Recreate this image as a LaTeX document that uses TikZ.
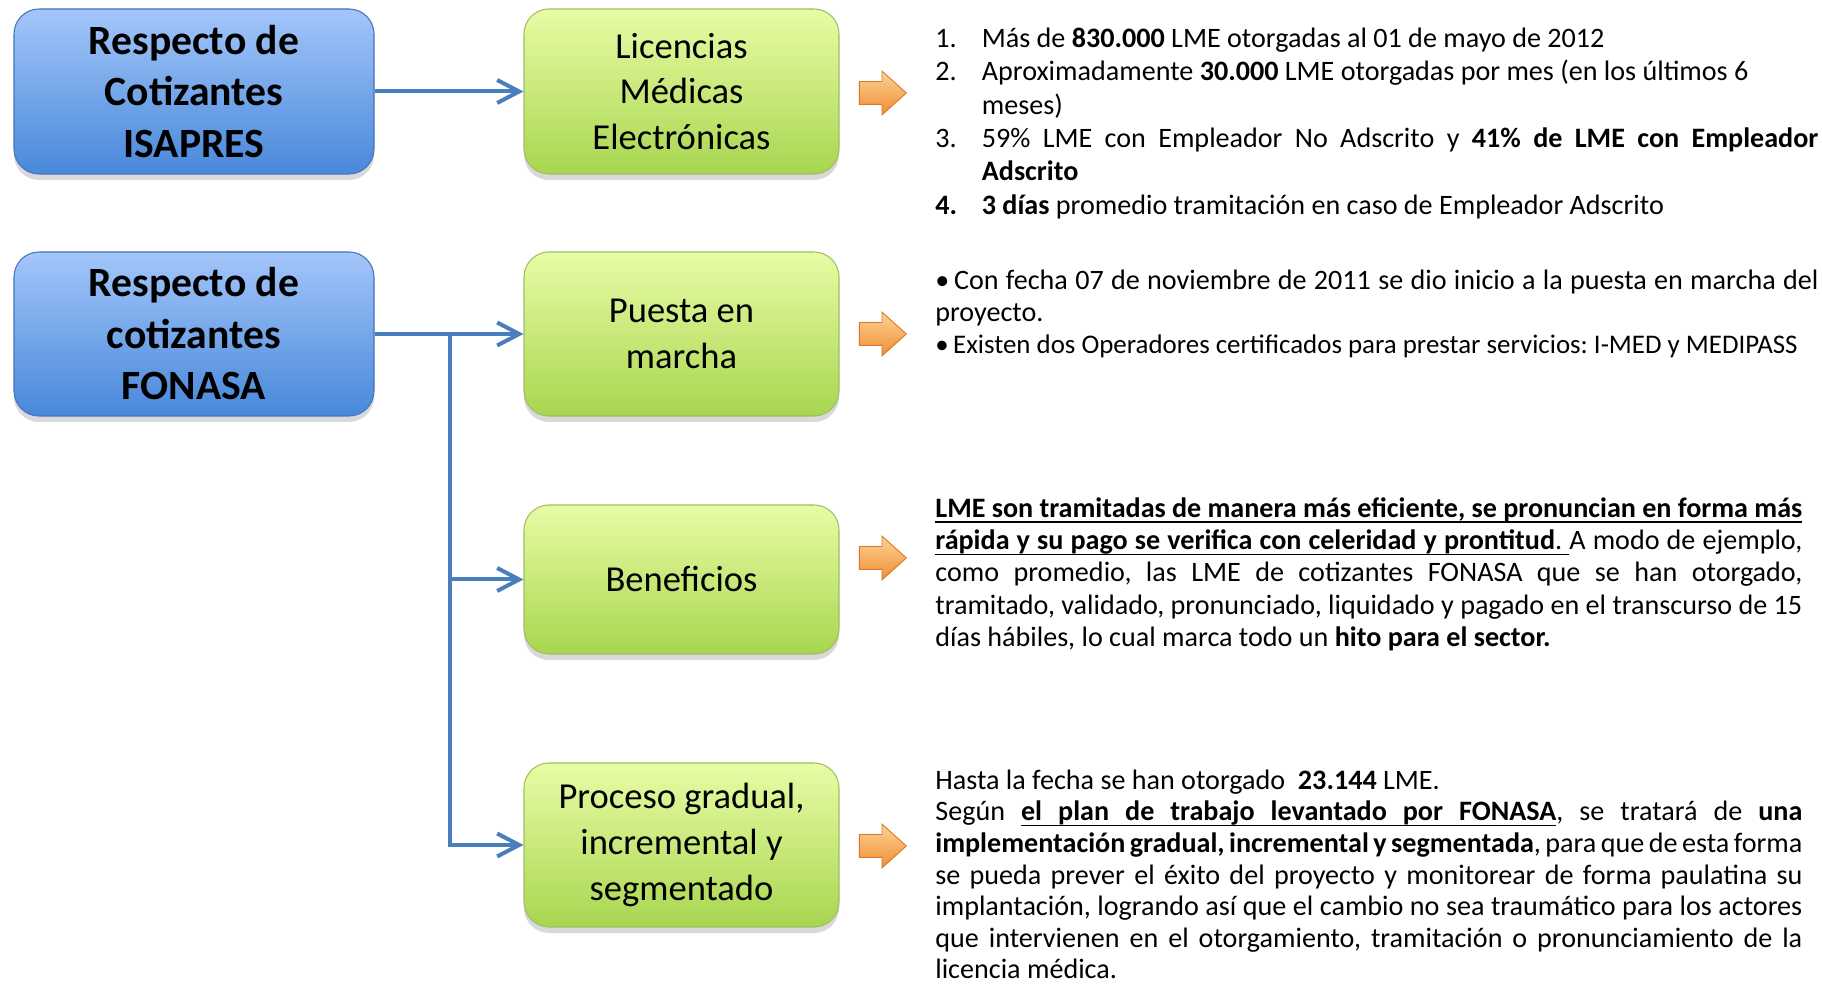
\documentclass[tikz,border=0pt]{standalone}
\usepackage{fontspec}
\setmainfont{Carlito}
\usetikzlibrary{arrows.meta,shapes.arrows,shadows}

\definecolor{azularriba}{RGB}{163,198,250}
\definecolor{azulabajo}{RGB}{72,136,218}
\definecolor{azulborde}{RGB}{70,115,185}
\definecolor{verdearriba}{RGB}{232,252,165}
\definecolor{verdeabajo}{RGB}{168,214,80}
\definecolor{verdeborde}{RGB}{160,190,100}
\definecolor{naranjaarriba}{RGB}{252,212,150}
\definecolor{naranjaabajo}{RGB}{240,140,50}
\definecolor{naranjaborde}{RGB}{215,120,40}
\definecolor{conector}{RGB}{74,126,187}

\frenchspacing
\newcommand{\numlme}[1]{\noindent\hangindent=0.93cm\hangafter=1\makebox[0.93cm][l]{#1}}
% subrayado que se estira con la linea justificada
\newcommand{\ulw}[1]{\setbox0=\hbox{#1}\rlap{\vrule height -2.2pt depth 3pt width \wd0}\box0}
\newcommand{\uls}{\leaders\hrule height -2.2pt depth 3pt\hskip\fontdimen2\font plus \fontdimen3\font minus \fontdimen4\font}
\makeatletter
\def\ulin#1{\ul@go#1 \@nil}
\def\ul@go#1 #2\@nil{\ulw{#1}\if\relax\detokenize{#2}\relax\else\uls\ul@go#2\@nil\fi}
\makeatother

\begin{document}
\begin{tikzpicture}[
    caja/.style={rounded corners=0.5cm, line width=0.6pt, align=center, inner sep=0pt,
        drop shadow={shadow xshift=0pt, shadow yshift=-0.12cm, opacity=0.3}},
    cajaazul/.style={caja, draw=azulborde, top color=azularriba, bottom color=azulabajo,
        minimum width=7.2cm, font=\fontsize{23.7}{29.3}\selectfont\bfseries},
    cajaverde/.style={caja, draw=verdeborde, top color=verdearriba, bottom color=verdeabajo,
        minimum width=6.3cm, font=\fontsize{20.8}{26}\selectfont},
    conn/.style={draw=conector, line width=0.08cm, -{Straight Barb[length=0.44cm,width=0.46cm]}},
    flecha/.style={single arrow, draw=naranjaborde, line width=0.5pt, top color=naranjaarriba,
        bottom color=naranjaabajo, minimum height=0.94cm, minimum width=0.86cm,
        single arrow head extend=0.21cm, single arrow tip angle=84, inner xsep=0pt, inner ysep=0.22cm},
    texto/.style={anchor=north west, inner sep=0pt, align=justify,
        font=\fontsize{16}{18.3}\selectfont,
        execute at begin node={\setlength{\parindent}{0pt}\hbadness=10000\hyphenpenalty=10000}}
]

    \useasboundingbox (0,0) rectangle (36.44,19.66);

    % Cotizantes
    \node[cajaazul, minimum height=3.3cm] (isapres) at (3.88,17.83) {Respecto de\\Cotizantes\\ISAPRES};
    \node[cajaazul, minimum height=3.28cm] (fonasa) at (3.88,12.98) {Respecto de\\cotizantes\\FONASA};

    % Etapas
    \node[cajaverde, minimum height=3.3cm] (lme) at (13.63,17.83) {Licencias\\Médicas\\Electrónicas};
    \node[cajaverde, minimum height=3.28cm] (puesta) at (13.63,12.98) {Puesta en\\marcha};
    \node[cajaverde, minimum height=2.98cm] (benef) at (13.63,8.07) {Beneficios};
    \node[cajaverde, minimum height=3.28cm] (proceso) at (13.63,2.76) {Proceso gradual,\\incremental y\\segmentado};

    % Conectores
    \coordinate (tronco) at (9.0,12.98);
    \draw[conn] (isapres) -- (lme);
    \draw[conn] (fonasa) -- (puesta);
    \draw[conn] (tronco) |- (benef);
    \draw[conn] (tronco) |- (proceso);

    % Flechas naranjas
    \foreach \y [count=\i] in {17.80,12.98,8.50,2.74} {
        \node[flecha] (flecha\i) at (17.53,\y) {};
    }

    % Textos
    \node[texto, text width=17.66cm, font=\fontsize{16}{19}\selectfont] (lista) at (18.70,19.11) {%
        \numlme{1.}Más de \textbf{830.000} LME otorgadas al 01 de mayo de 2012\par
        \numlme{2.}Aproximadamente \textbf{30.000} LME otorgadas por mes (en los últimos 6\newline meses)\par
        \numlme{3.}59\% LME con Empleador No Adscrito y \textbf{41\% de LME con Empleador}\linebreak \textbf{Adscrito}\par
        \numlme{\textbf{4.}}\textbf{3 días} promedio tramitación en caso de Empleador Adscrito};

    \node[texto, text width=17.66cm] (marcha) at (18.70,14.27) {%
        •\,Con fecha 07 de noviembre de 2011 se dio inicio a la puesta en marcha del\linebreak proyecto.\par
        {\fontsize{15.3}{18.3}\selectfont •\,Existen dos Operadores certificados para prestar servicios: I-MED y MEDIPASS\par}};

    \node[texto, text width=17.34cm] (ventajas) at (18.70,9.71) {%
        \textbf{\ulin{LME son tramitadas de manera más eficiente, se pronuncian en forma más}}\linebreak
        \textbf{\ulin{rápida y su pago se verifica con celeridad y prontitud}}\ulw{.}\uls A modo de ejemplo,\linebreak
        como promedio, las LME de cotizantes FONASA que se han otorgado,\linebreak
        tramitado, validado, pronunciado, liquidado y pagado en el transcurso de 15\linebreak
        días hábiles, lo cual marca todo un \textbf{hito para el sector.}};

    \node[texto, text width=17.34cm, font=\fontsize{16}{17.95}\selectfont] (plan) at (18.70,4.27) {%
        Hasta la fecha se han otorgado\ \ \textbf{23.144} LME.\newline
        Según \textbf{\ulin{el plan de trabajo levantado por FONASA}}, se tratará de \textbf{una}\linebreak
        \textbf{implementación gradual, incremental y segmentada}, para que de esta forma\linebreak
        se pueda prever el éxito del proyecto y monitorear de forma paulatina su\linebreak
        implantación, logrando así que el cambio no sea traumático para los actores\linebreak
        que intervienen en el otorgamiento, tramitación o pronunciamiento de la\linebreak
        licencia médica.};

\end{tikzpicture}
\end{document}
